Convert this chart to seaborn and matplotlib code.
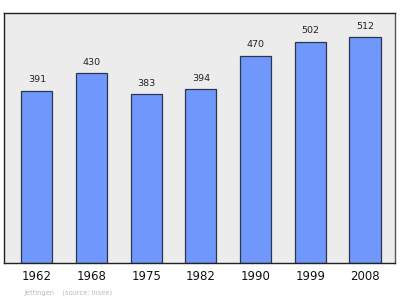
import matplotlib
matplotlib.use("Agg")
import matplotlib.pyplot as plt
import seaborn as sns
import pandas as pd

years = ["1962", "1968", "1975", "1982", "1990", "1999", "2008"]
population = [391, 430, 383, 394, 470, 502, 512]

df = pd.DataFrame({"year": years, "pop": population})

sns.set_style("white")
plt.rcParams["font.family"] = ["DejaVu Sans"]

fig = plt.figure(figsize=(4.0, 2.99), dpi=100)
ax = fig.add_axes([4/400, 1 - 263/299, 391/400, 250/299])
ax.set_facecolor("#ececec")

sns.barplot(data=df, x="year", y="pop", ax=ax, color="#7098fc", saturation=1,
            width=0.57, edgecolor="#2a3550", linewidth=0.9)

for i, v in enumerate(population):
    ax.text(i, v + 15, str(v), ha="center", va="bottom", fontsize=6.8, color="#222222")

ax.set_xlim(-0.6, 6.55)
ax.set_ylim(0, 567)
ax.set_yticks([])
ax.set_xlabel("")
ax.set_ylabel("")
ax.tick_params(axis="x", length=0, pad=5, labelsize=8.5, colors="#111111")
for s in ax.spines.values():
    s.set_visible(True)
    s.set_linewidth(1.0)
ax.spines["left"].set_color("#222222")
ax.spines["top"].set_color("#222222")
ax.spines["bottom"].set_color("#222222")
ax.spines["right"].set_color("#555555")

fig.text(24/400, 1 - 293/299, "Jettingen    (source: Insee)", fontsize=4.8, color="#bbbbbb", va="center")

fig.savefig("out.png", dpi=100, facecolor="white")
